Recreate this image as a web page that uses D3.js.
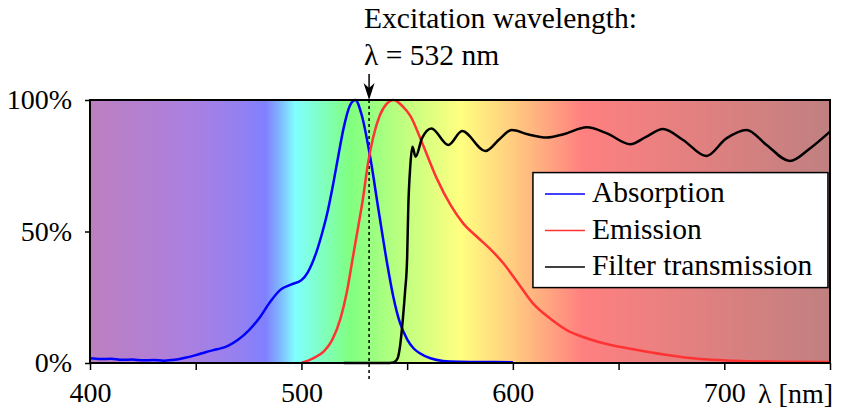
<!DOCTYPE html>
<html>
<head>
<meta charset="utf-8">
<script src="https://cdn.jsdelivr.net/npm/d3@7"></script>
<style>
  html, body { margin: 0; padding: 0; background: #ffffff; }
  svg { display: block; }
  text { font-family: "Liberation Serif", "Times New Roman", Times, "DejaVu Serif", serif; fill: #000; }
</style>
</head>
<body>
<div id="chart"></div>
<script>
// Fluorescence spectra: absorption, emission and filter transmission (values in %)

const absorptionNm = [400, 405, 410, 415, 420, 425, 430, 435, 440, 445, 450, 455, 460, 465, 470, 475, 480, 485, 490, 495, 500, 503, 507, 510, 512.5, 515, 517.5, 520, 523, 525.5, 528.5, 532.5, 536.5, 540.5, 543.5, 546.5, 550, 553, 556, 561, 567, 575, 585, 600];
const absorptionVal = [1.8, 1.5, 1.6, 1.2, 1.3, 1.0, 1.1, 0.9, 1.2, 2.0, 3.0, 4.2, 5.2, 6.4, 8.8, 12.3, 17, 23, 27.8, 29.8, 31.5, 34.5, 42, 50, 58, 68, 79, 89.5, 98, 100, 94.3, 78.4, 58, 38, 25, 15.5, 9, 5.6, 3.7, 1.8, 0.8, 0.5, 0.4, 0.3];

const emissionNm = [500, 505.5, 510.5, 514.5, 518.5, 521.5, 524.5, 527, 529, 531.5, 534, 537, 540.5, 543.5, 548, 551.5, 557.5, 564, 570.5, 576.5, 583, 589, 595.5, 602, 609.5, 617.5, 625.5, 633.5, 641, 657, 673, 688.5, 704.5, 728, 750];
const emissionVal = [0, 1.8, 4.3, 8.7, 17, 27.1, 41, 52.5, 62, 76, 86, 94, 98.7, 100, 97.5, 94, 82.9, 70.2, 60.1, 53.1, 48, 43.6, 37.9, 30.9, 22.7, 17, 12.5, 9.8, 7.9, 5.2, 3, 1.5, 0.9, 0.5, 0.4];

const filterNm = [520, 540, 543.5, 545.5, 546.5, 548, 549, 550, 550.5, 551.5, 552.5, 554, 557, 561.5, 569.5, 576, 587, 594, 599.5, 607, 616, 624, 635, 644.5, 655.5, 663, 671, 680.5, 691.5, 701, 710.5, 720, 731, 740.5, 750];
const filterVal = [0, 0, 0.2, 1.8, 5.6, 17, 27, 40, 58, 75, 82.2, 78.4, 85.4, 89.2, 82.9, 88.2, 80.6, 85.4, 88.6, 87, 85.7, 87, 89.6, 87.3, 83.2, 86, 89, 84.8, 78.7, 85.4, 88.6, 82.9, 76.8, 81.6, 88];

const seriesNames = ["Absorption", "Emission", "Filter transmission"];
const seriesColors = ["#0000ff", "#ff3333", "#000000"];

const xTicks = [400, 450, 500, 550, 600, 650, 700, 750];
const xLabels = [400, 500, 600, 700];
const yTicks = [0, 50, 100];

const excitationNm = 532;

// background spectrum (wavelength -> colour)
const spectrumNm = [400, 430, 450, 470, 483, 490, 497, 510, 523, 550, 575, 600, 633, 750];
const spectrumColor = ["#bc80c0", "#b27fd4", "#a880e2", "#9580f0", "#8080ff", "#80b8ff", "#80ffff", "#80ffc0", "#80ff80", "#c4ff80", "#ffff80", "#ffcc80", "#ff8080", "#c08080"];

const serif = "'Liberation Serif', 'Times New Roman', Times, 'DejaVu Serif', serif";

const width = 842, height = 412;
const margin = { top: 100, right: 12, bottom: 49, left: 90 };
const chartWidth = width - margin.left - margin.right;
const chartHeight = height - margin.top - margin.bottom;

const svg = d3.select("#chart").append("svg")
    .attr("width", width)
    .attr("height", height);

const g = svg.append("g")
    .attr("transform", `translate(${margin.left},${margin.top})`);

const x = d3.scaleLinear().domain([400, 750]).range([0, chartWidth]);
const y = d3.scaleLinear().domain([0, 100]).range([chartHeight, 0]);

// gradient
const grad = svg.append("defs").append("linearGradient")
    .attr("id", "spectrum")
    .attr("x1", "0%").attr("x2", "100%")
    .attr("y1", "0%").attr("y2", "0%");

grad.selectAll("stop")
    .data(spectrumNm)
    .enter()
    .append("stop")
    .attr("offset", d => (x(d) / chartWidth * 100) + "%")
    .attr("stop-color", (d, i) => spectrumColor[i]);

g.append("rect")
    .attr("x", 0)
    .attr("y", 0)
    .attr("width", chartWidth)
    .attr("height", chartHeight)
    .attr("fill", "url(#spectrum)");

// excitation marker (dashed)
g.append("line")
    .attr("x1", x(excitationNm)).attr("x2", x(excitationNm))
    .attr("y1", y(100)).attr("y2", chartHeight + 16)
    .attr("stroke", "#000")
    .attr("stroke-width", 1.5)
    .attr("stroke-dasharray", "3,3");

// curves
const line = d3.line()
    .x(d => x(d[0]))
    .y(d => y(d[1]))
    .curve(d3.curveMonotoneX);

const series = [
    d3.zip(absorptionNm, absorptionVal),
    d3.zip(emissionNm, emissionVal),
    d3.zip(filterNm, filterVal)
];

g.selectAll("path.series")
    .data(series)
    .enter()
    .append("path")
    .attr("class", "series")
    .attr("fill", "none")
    .attr("stroke", (d, i) => seriesColors[i])
    .attr("stroke-width", 2.5)
    .attr("stroke-linejoin", "round")
    .attr("d", line);

// axes
const xAxis = g.append("g")
    .attr("transform", `translate(0,${chartHeight})`)
    .call(d3.axisBottom(x)
        .tickValues(xTicks)
        .tickSize(7)
        .tickPadding(12)
        .tickFormat(d => xLabels.includes(d) ? d : ""));

const yAxis = g.append("g")
    .call(d3.axisLeft(y)
        .tickValues(yTicks)
        .tickSize(5)
        .tickPadding(13)
        .tickFormat(d => d + "%"));

[xAxis, yAxis].forEach(a => {
    a.attr("font-family", null);
    a.select(".domain").remove();
    a.selectAll("line").attr("stroke", "#000").attr("stroke-width", 1.5);
    a.selectAll("text")
        .style("font-family", serif)
        .style("font-size", "28px")
        .attr("fill", "#000");
});

g.append("text")
    .attr("x", chartWidth + 3)
    .attr("y", chartHeight + 40)
    .attr("text-anchor", "end")
    .style("font-family", serif)
    .style("font-size", "28px")
    .text("λ [nm]");

// frame
g.append("rect")
    .attr("x", 0)
    .attr("y", 0)
    .attr("width", chartWidth)
    .attr("height", chartHeight)
    .attr("fill", "none")
    .attr("stroke", "#000")
    .attr("stroke-width", 2);

// arrow + annotation
const ax = x(excitationNm);
g.append("line")
    .attr("x1", ax).attr("x2", ax)
    .attr("y1", -26).attr("y2", -8)
    .attr("stroke", "#000")
    .attr("stroke-width", 1.5);

g.append("path")
    .attr("d", `M${ax},${y(100)} L${ax - 5.5},${-17} L${ax},${-12} L${ax + 5.5},${-17} Z`)
    .attr("fill", "#000");

g.append("text")
    .attr("x", ax - 5)
    .attr("y", -72)
    .style("font-family", serif)
    .style("font-size", "29.5px")
    .text("Excitation wavelength:");

g.append("text")
    .attr("x", ax - 5)
    .attr("y", -35)
    .style("font-family", serif)
    .style("font-size", "29.5px")
    .text("λ = 532 nm");

// legend
const legend = g.append("g")
    .attr("transform", `translate(${x(609.5)},${y(72.4)})`);

legend.append("rect")
    .attr("x", 0)
    .attr("y", 0)
    .attr("width", 295)
    .attr("height", 115)
    .attr("fill", "#fff")
    .attr("stroke", "#000")
    .attr("stroke-width", 1.5);

const rows = legend.selectAll("g.row")
    .data(seriesNames)
    .enter()
    .append("g")
    .attr("class", "row")
    .attr("transform", (d, i) => `translate(0,${21.5 + i * 36.5})`);

rows.append("line")
    .attr("x1", 12).attr("x2", 52)
    .attr("y1", 0).attr("y2", 0)
    .attr("stroke", (d, i) => seriesColors[i])
    .attr("stroke-width", 1.5);

rows.append("text")
    .attr("x", 59)
    .attr("y", 8)
    .style("font-family", serif)
    .style("font-size", "29.5px")
    .text(d => d);
</script>
</body>
</html>
